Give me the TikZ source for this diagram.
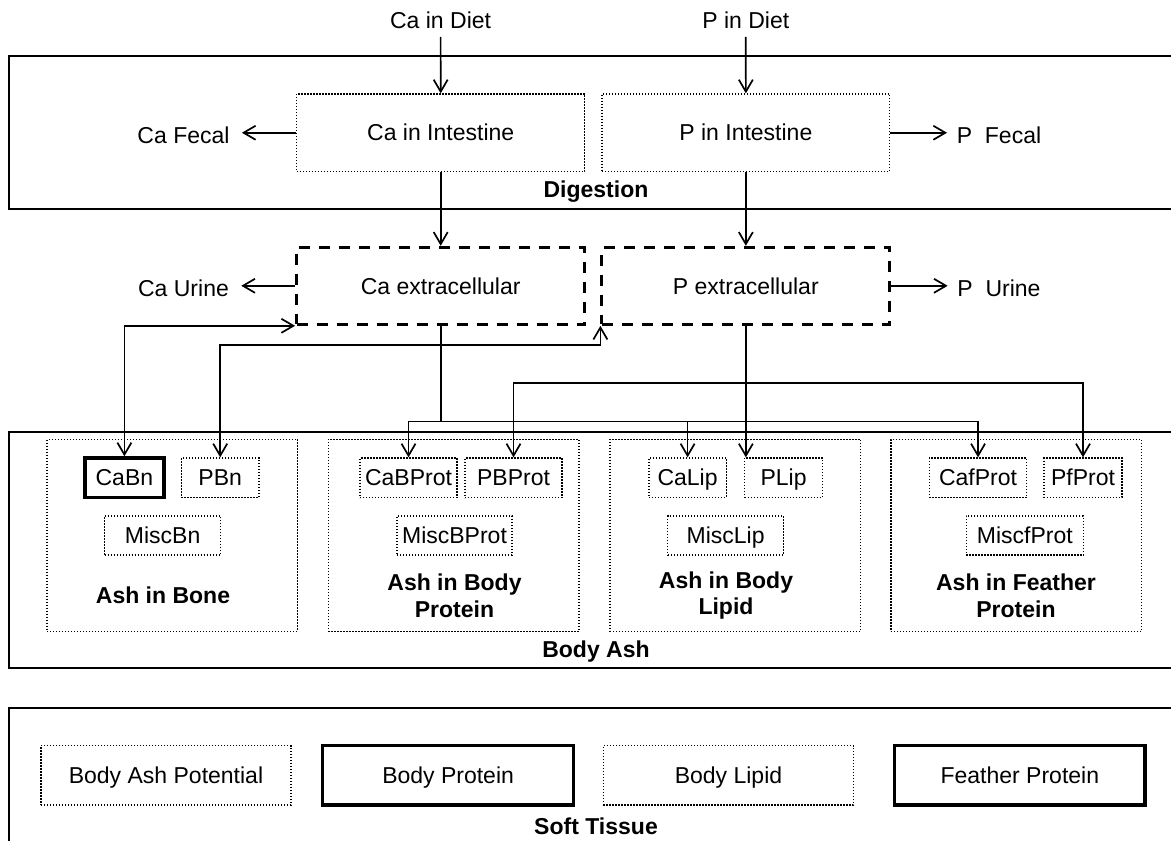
\documentclass[tikz,border=0pt]{standalone}
\usepackage{fontspec}
\setmainfont{Liberation Sans}
\usetikzlibrary{arrows.meta,calc}
\begin{document}
\begin{tikzpicture}[x=0.5pt,y=-0.5pt,
  every node/.style={font=\fontsize{11.5}{13.3}\selectfont},
  frameline/.style={line width=1pt},
  boxtext/.style={inner sep=0pt, text height=0.82em, text depth=0em, align=center},
  dotbox/.style={draw, boxtext, line width=0.65pt, dash pattern=on 0.65pt off 0.85pt},
  solidbox/.style={draw, boxtext, line width=1.7pt},
  dashbox/.style={draw, boxtext, line width=1.5pt, dash pattern=on 5.5pt off 4.5pt},
  grp/.style={draw, line width=0.65pt, dash pattern=on 0.65pt off 0.85pt, inner sep=0pt},
  lbl/.style={inner sep=0pt},
  head/.style={font=\fontsize{11.5}{13.3}\selectfont\bfseries, align=center, inner sep=0pt},
  wire/.style={line width=0.85pt},
  conn/.style={line width=0.85pt, -{Straight Barb[length=6pt,width=7pt]}},
  bconn/.style={line width=0.85pt, {Straight Barb[length=6pt,width=7pt]}-{Straight Barb[length=6pt,width=7pt]}}
]
\useasboundingbox (0,0) rectangle (1171,841);

% ---- Digestion ----
\node[lbl, inner ysep=4pt] (cadiet) at (440.6,20) {Ca in Diet};
\node[lbl, inner ysep=4pt] (pdiet) at (745.8,20) {P in Diet};
\draw[frameline] (1171,56) -- (9,56) -- (9,209) -- (1171,209);
\node[head] (digestion) at (596,192) {Digestion};
\node[dotbox, minimum width=144.1pt, minimum height=38.75pt] (caint) at (440.7,132.75) {Ca in Intestine};
\node[dotbox, minimum width=143.95pt, minimum height=38.75pt] (pint) at (745.85,132.75) {P in Intestine};
\node[lbl, inner xsep=6pt] (cafecal) at (183.5,135) {Ca Fecal};
\node[lbl, inner xsep=4.7pt] (pfecal) at (999,135) {P\ \ Fecal};
\draw[conn] (cadiet.south) -- (caint.north);
\draw[conn] (pdiet.south) -- (pint.north);
\draw[conn] (caint.west) -- (caint.west -| cafecal.east);
\draw[conn] (pint.east) -- (pint.east -| pfecal.west);

% ---- Extracellular ----
\node[dashbox, minimum width=144.1pt, minimum height=38.5pt] (caext) at (440.7,285.8) {Ca extracellular};
\node[dashbox, minimum width=143.95pt, minimum height=38.5pt] (pext) at (745.85,285.8) {P extracellular};
\node[lbl, inner xsep=6pt] (caurine) at (183.5,288) {Ca Urine};
\node[lbl, inner xsep=4.7pt] (purine) at (999,288) {P\ \ Urine};
\draw[conn] (caint.south) -- (caext.north);
\draw[conn] (pint.south) -- (pext.north);
\draw[conn] (caext.west) -- (caext.west -| caurine.east);
\draw[conn] (pext.east) -- (pext.east -| purine.west);

% ---- Body Ash ----
\draw[frameline] (1171,431.7) -- (9,431.7) -- (9,668) -- (1171,668);
\node[head] (bodyash) at (596,652) {Body Ash};
\node[grp, minimum width=125.2pt, minimum height=96pt] (gbone) at (172.2,535.3) {};
\node[grp, minimum width=125.3pt, minimum height=96pt] (gprot) at (453.7,535.3) {};
\node[grp, minimum width=125.4pt, minimum height=96pt] (glip) at (735.4,535.3) {};
\node[grp, minimum width=125.25pt, minimum height=96pt] (gfeat) at (1016.25,535.3) {};

\node[solidbox, minimum width=39.4pt, minimum height=19.75pt] (cabn) at (124.4,477.75) {CaBn};
\node[dotbox, minimum width=38.8pt, minimum height=19.75pt] (pbn) at (220.2,477.75) {PBn};
\node[dotbox, minimum width=58.15pt, minimum height=19.5pt] (miscbn) at (162.65,535.5) {MiscBn};
\node[head] (lbone) at (163,595.7) {Ash in Bone};

\node[dotbox, minimum width=48.5pt, minimum height=19.75pt] (cabprot) at (408.5,477.75) {CaBProt};
\node[dotbox, minimum width=48.5pt, minimum height=19.75pt] (pbprot) at (513.5,477.75) {PBProt};
\node[dotbox, minimum width=57.5pt, minimum height=19.5pt] (miscbprot) at (454.5,535.5) {MiscBProt};
\node[head] (lprot) at (454.5,595.5) {Ash in Body\\Protein};

\node[dotbox, minimum width=38.6pt, minimum height=19.75pt] (calip) at (687.6,477.75) {CaLip};
\node[dotbox, minimum width=38.85pt, minimum height=19.75pt] (plip) at (783.55,477.75) {PLip};
\node[dotbox, minimum width=57.85pt, minimum height=19.5pt] (misclip) at (725.65,535.5) {MiscLip};
\node[head] (llip) at (726,595.5) {Ash in Body\\Lipid};

\node[dotbox, minimum width=48.65pt, minimum height=19.75pt] (cafprot) at (978.05,477.75) {CafProt};
\node[dotbox, minimum width=39pt, minimum height=19.75pt] (pfprot) at (1083,477.75) {PfProt};
\node[dotbox, minimum width=58.5pt, minimum height=19.5pt] (miscfprot) at (1024.8,535.5) {MiscfProt};
\node[head] (lfeat) at (1016,595.5) {Ash in Feather\\Protein};

% ---- connectors ----
\draw[bconn] (caext.south west) -| (cabn.north);
\draw[bconn] (pbn.north) |- ($(pext.south west)+(0,19)$) -- (pext.south west);
\coordinate (cabus) at ($(caext.south)+(0,95.7)$);
\draw[wire] (caext.south) -- (cabus);
\draw[conn] (cabus) -| (cabprot.north);
\draw[conn] (cabus) -| (calip.north);
\draw[conn] (cabus) -| (cafprot.north);
\coordinate (pbus) at ($(pext.south)+(0,57.4)$);
\draw[conn] (pext.south) -- (pext.south |- plip.north);
\draw[conn] (pbus) -| (pbprot.north);
\draw[conn] (pbus) -| (pfprot.north);

% ---- Soft Tissue ----
\draw[frameline] (1171,707.7) -- (9,707.7) -- (9,841);
\node[dotbox, minimum width=125pt, minimum height=29.65pt] (bap) at (166,775.35) {Body Ash Potential};
\node[solidbox, minimum width=125.5pt, minimum height=29.65pt] (bprot) at (448.1,775.35) {Body Protein};
\node[dotbox, minimum width=125.1pt, minimum height=29.65pt] (blip) at (728.5,775.35) {Body Lipid};
\node[solidbox, minimum width=125.15pt, minimum height=29.65pt] (fprot) at (1019.85,775.35) {Feather Protein};
\node[head] (soft) at (596,826.7) {Soft Tissue};
\end{tikzpicture}
\end{document}
